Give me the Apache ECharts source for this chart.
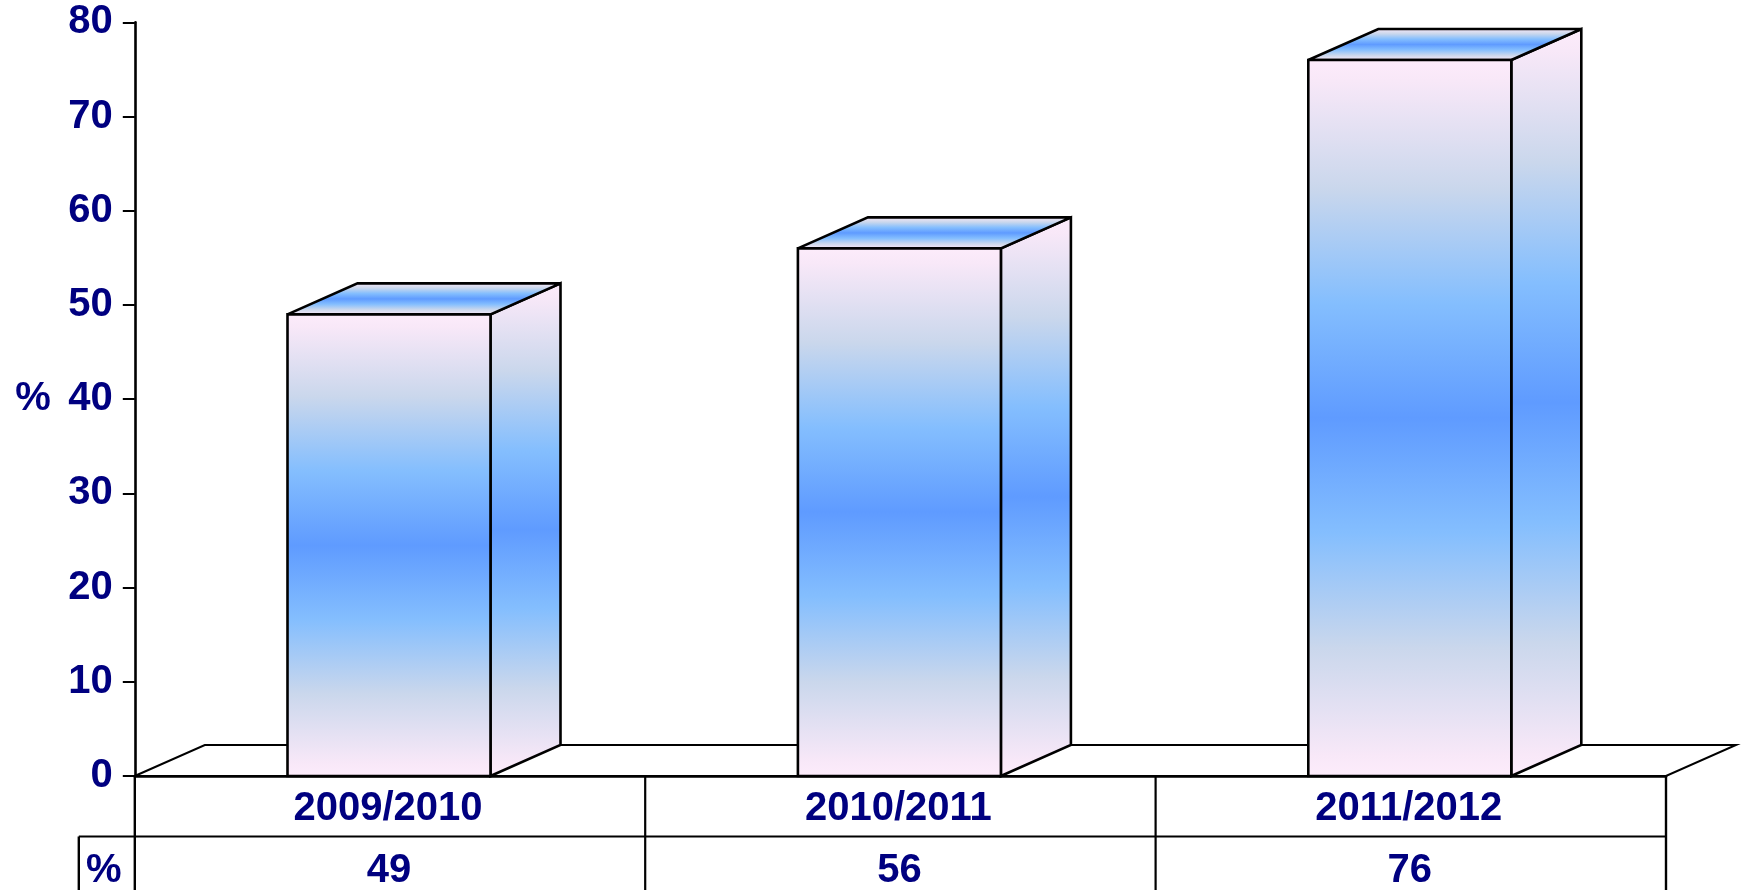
<!DOCTYPE html>
<html><head><meta charset="utf-8">
<style>html,body{margin:0;padding:0;background:#fff}#c{width:1741px;height:890px}</style>
<script src="https://cdn.jsdelivr.net/npm/echarts@6/dist/echarts.min.js"></script>
</head><body><div id="c"></div>
<script>
const categories = ['2009/2010','2010/2011','2011/2012'];
const percentValues = [49,56,76];
const yTicks = {min:0,max:80,interval:10};
const rowLabel = '%';
const axisName = '%';

const NAVY='#000080', LINE='#000', DX=70, DY=31, BAR_W=203, FS=40;
const grad = () => new echarts.graphic.LinearGradient(0,0,0,1,[
  {offset:0,color:'#FDECFB'},{offset:0.03,color:'#F8E8F8'},{offset:0.18,color:'#CAD7EC'},{offset:0.34,color:'#84BEFE'},
  {offset:0.5,color:'#5F9BFF'},{offset:0.66,color:'#84BEFE'},{offset:0.82,color:'#CAD7EC'},{offset:0.97,color:'#F8E8F8'},{offset:1,color:'#FDECFB'}]);
const sty = () => ({fill:grad(),stroke:LINE,lineWidth:2.6,lineJoin:'miter',miterLimit:2});

function renderFrame(params, api){
  const cs=params.coordSys, L=cs.x, R=cs.x+cs.width, B=cs.y+cs.height, H=890;
  const col=cs.width/categories.length;
  const line=(x1,y1,x2,y2,w)=>({type:'line',shape:{x1,y1,x2,y2},style:{stroke:LINE,lineWidth:w||2}});
  const ch=[{type:'polygon',shape:{points:[[L,B],[L+DX,B-DY],[R+DX,B-DY],[R,B]]},style:{fill:'#fff',stroke:LINE,lineWidth:2}}];
  const rowY=B+60.5;
  ch.push(line(L,B,L,H,2.4),line(R,B,R,H,2.4),line(L-56,rowY,R,rowY),line(L-56,rowY,L-56,H,2.4));
  for(let i=1;i<categories.length;i++) ch.push(line(L+col*i,B,L+col*i,H,2.2));
  ch.push({type:'text',style:{text:rowLabel,x:L-31,y:B+95,align:'center',verticalAlign:'middle',font:'bold '+FS+'px "Liberation Sans"',fill:NAVY}});
  return {type:'group',children:ch};
}
function renderBar(params, api){
  const i=api.value(0), v=api.value(1);
  const top=api.coord([i,v]), base=api.coord([i,0]);
  const l=top[0]-BAR_W/2-1, r=top[0]+BAR_W/2-1, t=top[1], b=base[1];
  return {type:'group',children:[
    {type:'polygon',shape:{points:[[r,b],[r+DX,b-DY],[r+DX,t-DY],[r,t]]},style:sty()},
    {type:'polygon',shape:{points:[[l,t],[l+DX,t-DY],[r+DX,t-DY],[r,t]]},style:sty()},
    {type:'rect',shape:{x:l,y:t,width:BAR_W,height:b-t},style:sty()}
  ]};
}
const chart=echarts.init(document.getElementById('c'));
chart.setOption({
  animation:false,backgroundColor:'#fff',
  grid:{left:134.8,right:75,top:22.3,bottom:114,containLabel:false,outerBoundsMode:'none'},
  xAxis:[
    {type:'category',data:categories,position:'bottom',axisLine:{show:true,lineStyle:{color:LINE,width:2.6}},axisTick:{show:false},
     axisLabel:{color:NAVY,fontFamily:'Liberation Sans',fontWeight:'bold',fontSize:FS,margin:13,padding:[0,4,0,0]}},
    {type:'category',data:percentValues.map(String),position:'bottom',offset:73,axisLine:{show:false},axisTick:{show:false},
     axisLabel:{color:NAVY,fontFamily:'Liberation Sans',fontWeight:'bold',fontSize:FS,margin:2,padding:[0,2,0,0]}}
  ],
  yAxis:{type:'value',min:yTicks.min,max:yTicks.max,interval:yTicks.interval,name:axisName,nameLocation:'middle',nameGap:84,nameRotate:0,
    nameTextStyle:{color:NAVY,fontFamily:'Liberation Sans',fontWeight:'bold',fontSize:FS,padding:[12,0,0,0]},
    axisLine:{show:true,lineStyle:{color:LINE,width:2.6}},axisTick:{show:true,length:12,lineStyle:{color:LINE,width:2}},splitLine:{show:false},
    axisLabel:{color:NAVY,fontFamily:'Liberation Sans',fontWeight:'bold',fontSize:FS,margin:22,padding:[8,0,0,0]}},
  series:[
    {type:'custom',coordinateSystem:'cartesian2d',renderItem:renderFrame,data:[[0,0]],z:1,silent:true,clip:false},
    {type:'custom',coordinateSystem:'cartesian2d',renderItem:renderBar,data:percentValues.map((v,i)=>[i,v]),encode:{x:0,y:1},z:2,clip:false}
  ]
});
</script></body></html>
